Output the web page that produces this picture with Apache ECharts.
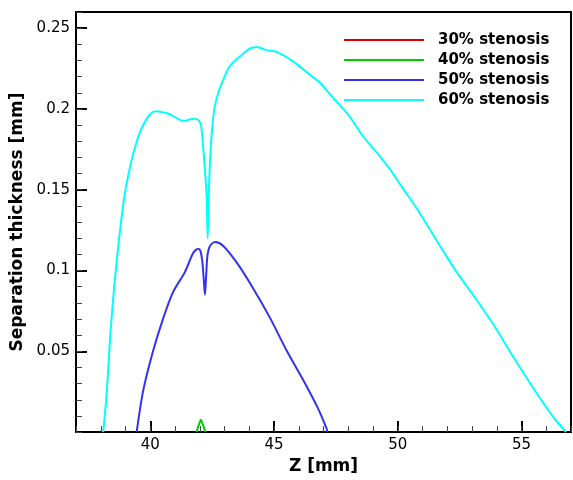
<!DOCTYPE html>
<html>
<head>
<meta charset="utf-8">
<script src="https://cdn.jsdelivr.net/npm/echarts@6/dist/echarts.min.js"></script>
<style>html,body{margin:0;padding:0;background:#fff}#c{width:573px;height:480px}</style>
</head>
<body>
<div id="c"></div>
<script>
var seriesNames = ['30% stenosis', '40% stenosis', '50% stenosis', '60% stenosis'];
var xMajorTicks = [40, 45, 50, 55];
var yMajorTicks = [0.05, 0.1, 0.15, 0.2, 0.25];

var s30 = [];
var s40 = [[41.87,0],[41.95,0.004],[42.05,0.0078],[42.14,0.004],[42.23,0]];
var s50 = [[39.45,0],[39.72,0.026],[40.12,0.0505],[40.53,0.0707],[40.93,0.0869],[41.40,0.099],[41.74,0.111],[41.94,0.1135],[42.03,0.112],[42.10,0.106],[42.16,0.095],[42.21,0.085],[42.26,0.097],[42.31,0.109],[42.41,0.115],[42.62,0.1176],[42.95,0.1152],[43.49,0.105],[44.16,0.0889],[44.84,0.0707],[45.51,0.0505],[46.18,0.0323],[46.73,0.0162],[47.13,0.002],[47.15,0]];
var s60 = [[38.10,0],[38.24,0.024],[38.41,0.065],[38.64,0.105],[38.95,0.1455],[39.21,0.166],[39.38,0.176],[39.59,0.186],[39.86,0.194],[40.05,0.1975],[40.25,0.1985],[40.5,0.198],[40.75,0.197],[41.0,0.195],[41.34,0.1925],[41.6,0.1935],[41.81,0.194],[41.95,0.193],[42.05,0.190],[42.14,0.176],[42.22,0.16],[42.28,0.145],[42.32,0.120],[42.36,0.145],[42.41,0.166],[42.48,0.184],[42.59,0.200],[42.75,0.210],[42.95,0.218],[43.15,0.225],[43.36,0.229],[43.76,0.2343],[44.03,0.2374],[44.30,0.2384],[44.70,0.2364],[45.11,0.2353],[45.78,0.2293],[46.45,0.2212],[46.86,0.2162],[47.26,0.2091],[47.80,0.2],[48.07,0.195],[48.61,0.1828],[49.28,0.1707],[49.69,0.1626],[50.22,0.1505],[50.77,0.1384],[51.71,0.1152],[52.38,0.099],[53.05,0.0848],[53.86,0.0667],[54.67,0.0465],[55.61,0.0242],[56.3,0.009],[56.69,0.002],[56.8,0]];

var colors = ['#e00000', '#00cc00', '#3333ee', '#00ffff'];
var allData = [s30, s40, s50, s60];
var FONT = 'DejaVu Sans';

var chart = echarts.init(document.getElementById('c'), null, {renderer: 'canvas'});
chart.setOption({
  animation: false,
  backgroundColor: '#fff',
  grid: {left: 76, right: 2, top: 12, bottom: 40, show: true, borderColor: '#000', borderWidth: 2, backgroundColor: 'transparent'},
  legend: {
    orient: 'vertical', left: 344, top: 32, padding: 0, itemWidth: 80, itemHeight: 2, itemGap: 4,
    icon: 'rect',
    textStyle: {fontFamily: FONT, fontWeight: 'bold', fontSize: 15, color: '#000', lineHeight: 16, padding: [0,0,0,9]},
    data: seriesNames
  },
  xAxis: [{
    type: 'value', min: 37, max: 57,
    name: 'Z [mm]', nameLocation: 'middle', nameGap: 20,
    nameTextStyle: {fontFamily: FONT, fontWeight: 'bold', fontSize: 17, color: '#000'},
    axisLine: {show: true, lineStyle: {color: '#000', width: 2}},
    axisTick: {show: true, inside: true, length: 11, lineStyle: {color: '#000', width: 2}, customValues: xMajorTicks},
    axisLabel: {show: true, fontFamily: FONT, fontSize: 15, color: '#000', margin: 6, customValues: xMajorTicks},
    splitLine: {show: false}
  }, {
    type: 'value', min: 37, max: 57, interval: 1, position: 'bottom',
    axisLine: {show: false}, axisLabel: {show: false}, splitLine: {show: false},
    axisTick: {show: true, inside: true, length: 6, lineStyle: {color: '#444', width: 1}}
  }],
  yAxis: [{
    type: 'value', min: 0, max: 0.26,
    name: 'Separation thickness [mm]', nameLocation: 'middle', nameGap: 42,
    nameTextStyle: {fontFamily: FONT, fontWeight: 'bold', fontSize: 17, color: '#000'},
    axisLine: {show: true, lineStyle: {color: '#000', width: 2}},
    axisTick: {show: true, inside: true, length: 11, lineStyle: {color: '#000', width: 2}, customValues: yMajorTicks},
    axisLabel: {show: true, fontFamily: FONT, fontSize: 15, color: '#000', margin: 6, customValues: yMajorTicks},
    splitLine: {show: false}
  }, {
    type: 'value', min: 0, max: 0.26, interval: 0.01, position: 'left',
    axisLine: {show: false}, axisLabel: {show: false}, splitLine: {show: false},
    axisTick: {show: true, inside: true, length: 6, lineStyle: {color: '#444', width: 1}}
  }],
  series: seriesNames.map(function (n, i) {
    return {
      name: n, type: 'line', data: allData[i], xAxisIndex: 0, yAxisIndex: 0,
      showSymbol: false, symbol: 'none', smooth: i >= 2 ? 0.3 : false,
      lineStyle: {color: colors[i], width: 2}, itemStyle: {color: colors[i]}
    };
  })
});
</script>
</body>
</html>
